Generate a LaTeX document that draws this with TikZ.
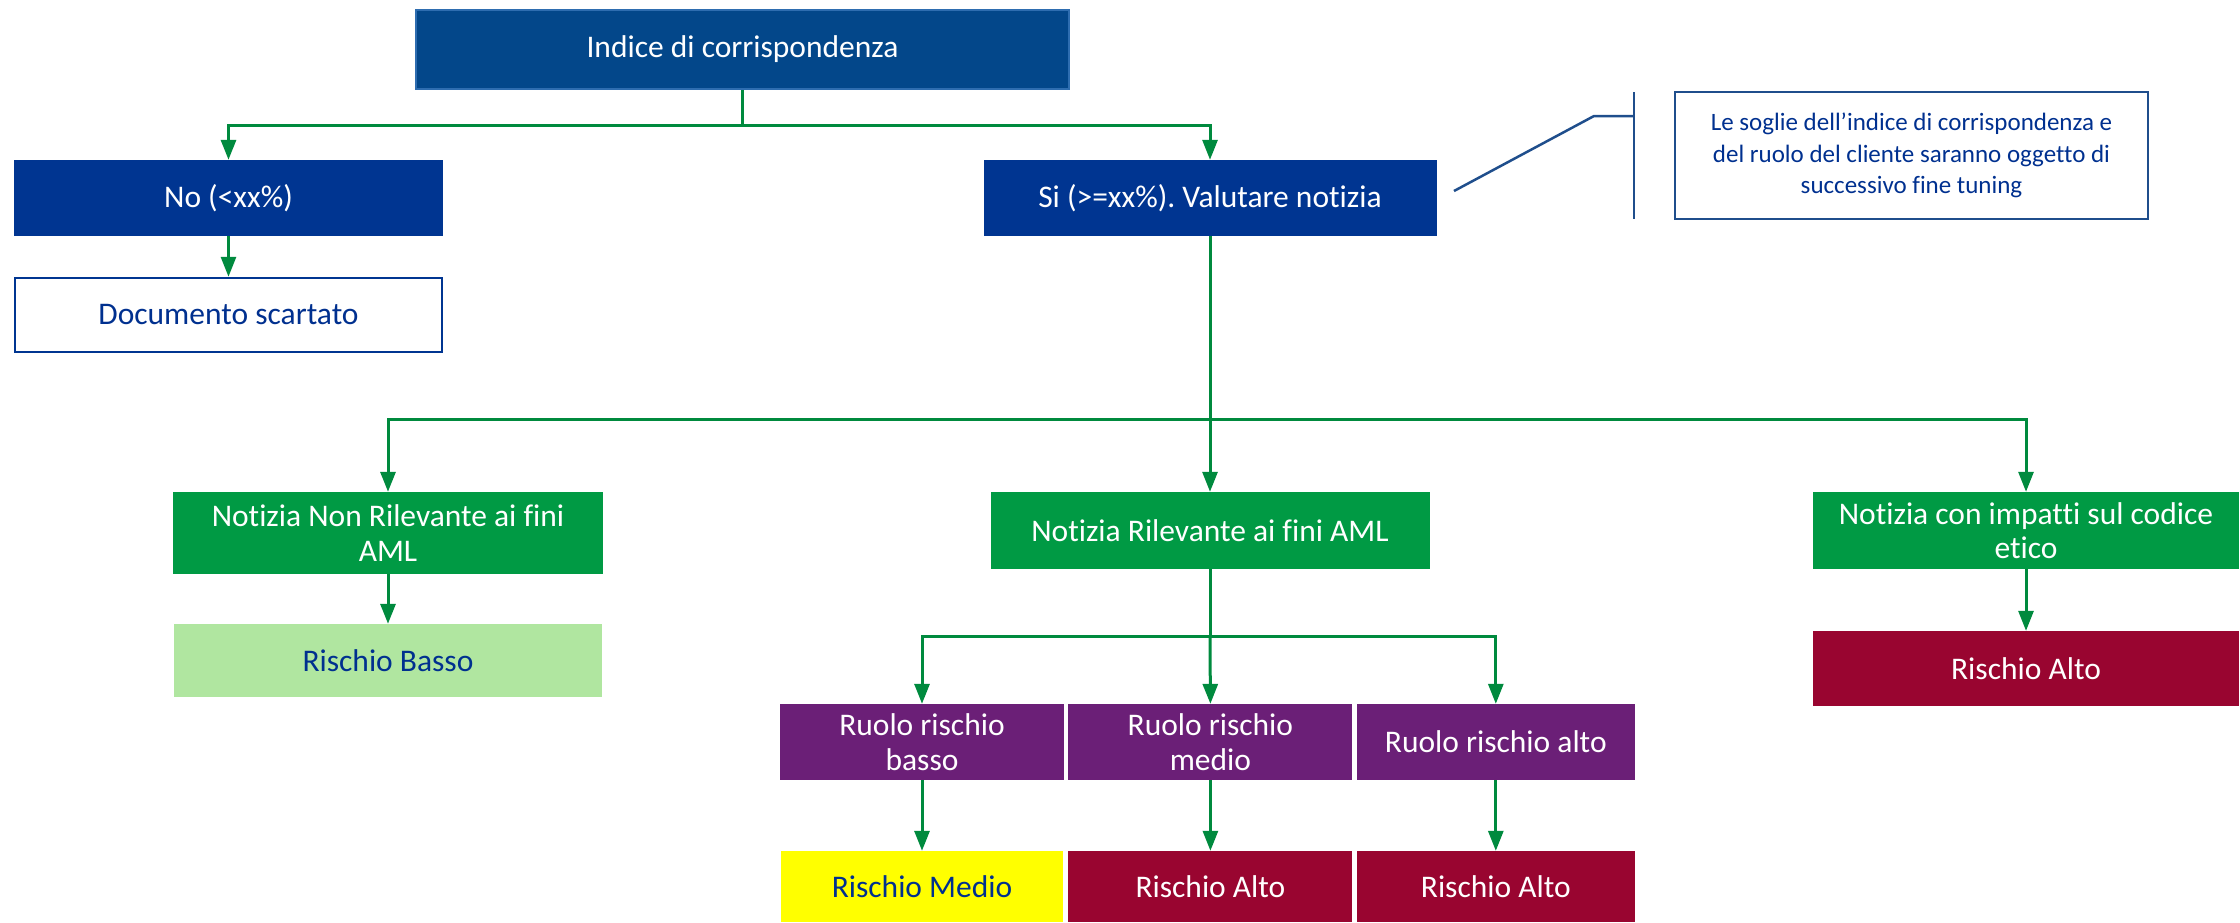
\documentclass[tikz,border=0pt]{standalone}
\usepackage{fontspec}
\setmainfont{Carlito}[Ligatures=NoCommon]
\usepackage{tikz}
\usetikzlibrary{arrows.meta,positioning,calc}
\frenchspacing
\definecolor{idxblue}{HTML}{03478A}
\definecolor{idxedge}{HTML}{2E6DB0}
\definecolor{navy}{HTML}{003591}
\definecolor{txtblue}{HTML}{00308F}
\definecolor{noteblue}{HTML}{1F4E8C}
\definecolor{boxgreen}{HTML}{009A44}
\definecolor{linkgreen}{HTML}{008A3E}
\definecolor{roleviolet}{HTML}{6B1F77}
\definecolor{riskred}{HTML}{990530}
\definecolor{lowgreen}{HTML}{B0E6A0}
\definecolor{midyellow}{HTML}{FFFF00}
\tikzset{
  box/.style={rectangle, inner sep=0pt, align=center, font=\fontsize{31.5}{34.5}\selectfont},
  navybox/.style={box, fill=navy, text=white},
  greenbox/.style={box, fill=boxgreen, text=white},
  rolebox/.style={box, fill=roleviolet, text=white},
  redbox/.style={box, fill=riskred, text=white},
  link/.style={draw=linkgreen, line width=3pt},
  flowarrow/.style={link, -{Triangle[length=20pt,width=15pt]}}
}

\begin{document}
\begin{tikzpicture}[x=1pt, y=-1pt]
\useasboundingbox (0,0) rectangle (2240,922);
% top level
\node[box, fill=idxblue, draw=idxedge, line width=2pt, text=white, minimum width=653pt, minimum height=79pt] (idx) at (742.5,49.5) {Indice di corrispondenza};
\node[navybox, minimum width=429pt, minimum height=76pt] (no) at (228.5,198) {No (<xx\%)};
\node[box, draw=navy, line width=2.5pt, fill=white, text=txtblue, minimum width=427pt, minimum height=74pt] (doc) at (228.5,315) {Documento scartato};
\node[navybox, minimum width=453pt, minimum height=76pt] (si) at (1210,198) {Si (>=xx\%). Valutare notizia};
% note on the thresholds
\node[box, draw=noteblue, line width=2.5pt, text=txtblue, minimum width=473pt, minimum height=127pt, font=\fontsize{25}{31.5}\selectfont] (note) at (1911.5,155.5)
  {Le soglie dell’indice di corrispondenza e\\del ruolo del cliente saranno oggetto di\\successivo fine tuning};
\coordinate (notetop) at (1634,92);
\coordinate (notebot) at (1634,219);
\coordinate (notejoin) at (1634,116);
\coordinate (noteknee) at (1594,116);
\coordinate (notetip) at (1454,191);
\draw[noteblue, line width=2.5pt] (notetop) -- (notebot);
\draw[noteblue, line width=2.5pt] (notetip) -- (noteknee) -- (notejoin);
% news classes
\node[greenbox, minimum width=430pt, minimum height=82pt] (nonril) at (388,533) {Notizia Non Rilevante ai fini\\AML};
\node[greenbox, minimum width=439pt, minimum height=77pt] (ril) at (1210,530.5) {Notizia Rilevante ai fini AML};
\node[greenbox, minimum width=426pt, minimum height=77pt] (etico) at (2026,530.5) {Notizia con impatti sul codice\\etico};
\node[box, fill=lowgreen, text=txtblue, minimum width=428pt, minimum height=73pt] (basso) at (388,660.5) {Rischio Basso};
\node[redbox, minimum width=426pt, minimum height=75pt] (altoe) at (2026,668.5) {Rischio Alto};
% client roles
\node[rolebox, minimum width=284pt, minimum height=76pt] (rb) at (922,742) {Ruolo rischio\\basso};
\node[rolebox, minimum width=284pt, minimum height=76pt, right=4pt of rb] (rm) {Ruolo rischio\\medio};
\node[rolebox, minimum width=278pt, minimum height=76pt, right=4pt of rm] (ra) {Ruolo rischio alto};
\node[box, fill=midyellow, text=txtblue, minimum width=282pt, minimum height=71pt] (medio) at (922,886.5) {Rischio Medio};
\node[redbox, minimum width=284pt, minimum height=71pt] (alto1) at (rm.center |- medio) {Rischio Alto};
\node[redbox, minimum width=278pt, minimum height=71pt] (alto2) at (ra.center |- medio) {Rischio Alto};
% connectors
\draw[link] (idx.south) -- ++(0,35) coordinate (hub1);
\draw[flowarrow] (hub1) -| (no.north);
\draw[flowarrow] (hub1) -| (si.north);
\draw[flowarrow] (no.south) -- (doc.north);
\draw[link] (si.south) -- ++(0,183) coordinate (hub2);
\draw[flowarrow] (hub2) -| (nonril.north);
\draw[flowarrow] (hub2) -- (ril.north);
\draw[flowarrow] (hub2) -| (etico.north);
\draw[flowarrow] (nonril.south) -- (basso.north);
\draw[flowarrow] (etico.south) -- (altoe.north);
\draw[link] (ril.south) -- ++(0,67) coordinate (hub3);
\draw[flowarrow] (hub3) -| (rb.north);
\draw[flowarrow] (hub3) -- (rm.north);
\draw[flowarrow] (hub3) -| (ra.north);
\draw[flowarrow] (rb.south) -- (medio.north);
\draw[flowarrow] (rm.south) -- (alto1.north);
\draw[flowarrow] (ra.south) -- (alto2.north);
\end{tikzpicture}
\end{document}
